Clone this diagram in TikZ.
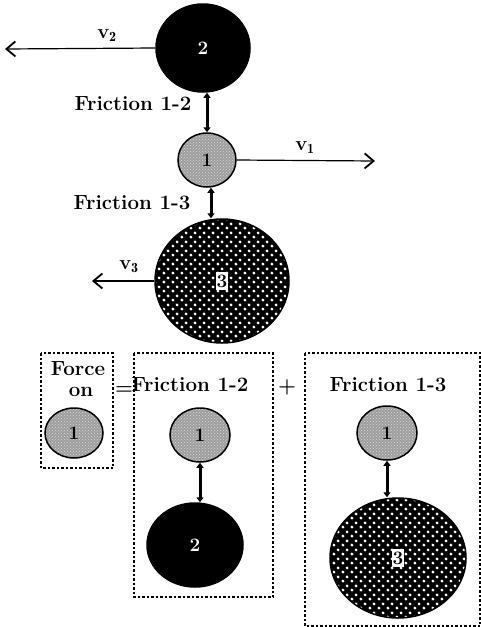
\documentclass[tikz,border=0pt]{standalone}
\usepackage{fontspec}
\usepackage{tikz}
\usetikzlibrary{arrows.meta,positioning,calc,shapes.geometric,patterns}

% grobes Punktraster
\pgfdeclarepatternformonly{bigdots}{\pgfpointorigin}{\pgfpoint{8.5pt}{8.5pt}}{\pgfpoint{8.5pt}{8.5pt}}{%
  \pgfpathcircle{\pgfpoint{2.1pt}{2.1pt}}{1.6pt}%
  \pgfpathcircle{\pgfpoint{6.4pt}{6.4pt}}{1.6pt}%
  \pgfusepath{fill}}

\begin{document}
\begin{tikzpicture}[x=1pt, y=-1pt,
    every node/.style={font=\fontsize{20.5}{22}\selectfont\bfseries},
    ball/.style={ellipse, draw, line width=1.5pt, inner sep=0pt,
      font=\fontsize{19}{21}\selectfont\bfseries},
    lightball/.style={ball, preaction={fill=black!38}, pattern=crosshatch dots, pattern color=white!85!black},
    darkball/.style={ball, fill=black, text=white},
    dotball/.style={ball, preaction={fill=black}, pattern=bigdots, pattern color=white},
    vel/.style={line width=1.2pt, -{Straight Barb[length=9pt, width=15pt, line width=1.8pt]}},
    fric/.style={line width=3pt, {Triangle[length=5pt, width=7pt]}-{Triangle[length=5pt, width=7pt]}},
    vlabel/.style={font=\fontsize{20}{22}\selectfont\bfseries},
    dbox/.style={line width=1.2pt, dash pattern=on 2.5pt off 2pt}
  ]
    % Rahmen
    \useasboundingbox (0,0) rectangle (481,627);

    % Kugeln oben
    \node[darkball, minimum width=94, minimum height=88] (b2) at (203,48) {2};
    \node[lightball, minimum width=58, minimum height=54] (b1) at (207,160) {1};
    \node[dotball, minimum width=134, minimum height=124] (b3) at (222,281)
         {\colorbox{white}{\kern-2pt 3\kern-2pt}};

    % Geschwindigkeiten
    \coordinate (v2end) at (5,49);
    \coordinate (v1end) at (375,161);
    \coordinate (v3end) at (92,283);
    \draw[vel] (b2.west) -- (v2end);
    \draw[vel] (b1.east) -- (v1end);
    \draw[vel] (b3.west) -- (b3.west -| v3end);
    \node[vlabel] (lv2) at (107,36) {v$_{\mathbf 2}$};
    \node[vlabel] (lv1) at (305,148) {v$_{\mathbf 1}$};
    \node[vlabel] (lv3) at (129,267) {v$_{\mathbf 3}$};

    % Reibung
    \draw[fric] (b1.north) -- (b1.north |- b2.south);
    \draw[fric] (b1.south -| b3.north) ++(-11,0) coordinate (f13) -- (f13 |- b3.north);
    \node (l12) at (133,104) {Friction 1-2};
    \node (l13) at (132,203) {Friction 1-3};

    % Zerlegung unten
    \draw[dbox] (41,353) rectangle (113,468);
    \draw[dbox] (134,353) rectangle (273,597);
    \draw[dbox] (305,353) rectangle (480,626);

    \node (force) at (78,369) {Force};
    \node (on) at (81,392) {on};
    \node[lightball, minimum width=58, minimum height=50] (f1) at (74,433) {1};

    \node (eq) at (124,391) {=};
    \node (plus) at (287,387) {+};

    \node (t12) at (190,385) {Friction 1-2};
    \node[lightball, minimum width=60, minimum height=54] (c1) at (200,435) {1};
    \node[darkball, minimum width=96, minimum height=84] (c2) at (195,545) {2};
    \draw[fric] (c1.south) -- (c1.south |- c2.north);

    \node (t13) at (388,385) {Friction 1-3};
    \node[lightball, minimum width=60, minimum height=54] (d1) at (387,433) {1};
    \node[dotball, minimum width=136, minimum height=120] (d3) at (398,558)
         {\colorbox{white}{\kern-2pt 3\kern-2pt}};
    \draw[fric] (d1.south) -- (d1.south |- d3.north);
\end{tikzpicture}
\end{document}
